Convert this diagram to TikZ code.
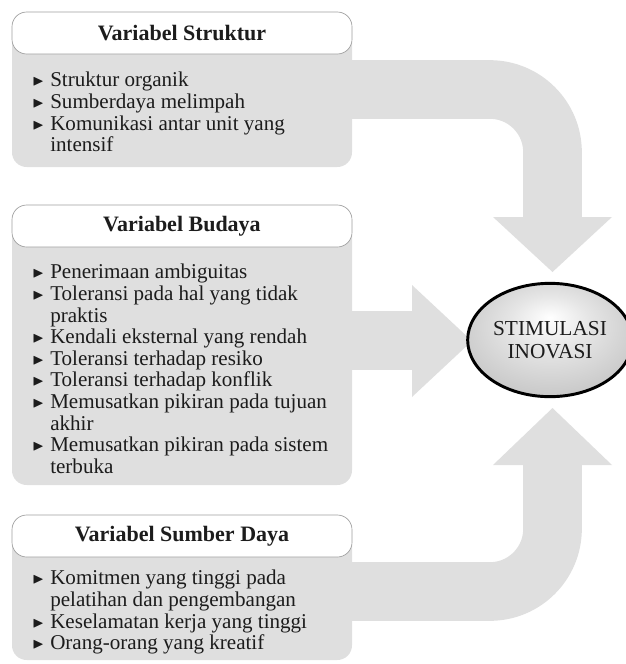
\documentclass[tikz,border=0pt]{standalone}
\usepackage{fontspec}
\setmainfont{Liberation Serif}
\usepackage{amssymb}
\usepackage{graphicx}
\usetikzlibrary{shapes.geometric}

\definecolor{panelgray}{RGB}{223,223,223}
\definecolor{inkgray}{RGB}{28,28,28}
\newcommand{\bul}{\makebox[13.5pt][l]{\raisebox{0.1ex}{\scalebox{0.72}{$\blacktriangleright$}}}}
\newcommand{\gap}{\hspace*{13.5pt}}
\pgfdeclareradialshading{stimshade}{\pgfpoint{0bp}{10bp}}{%
  color(0bp)=(white); color(12bp)=(gray!20); color(38bp)=(gray!55); color(50bp)=(gray!80)}

\begin{document}
\begin{tikzpicture}[x=0.75pt, y=-0.75pt,
  panel/.style={fill=panelgray, rounded corners=11pt},
  header/.style={fill=white, draw=gray!75, line width=0.5pt, rounded corners=11pt},
  title/.style={font=\fontsize{16.5}{19}\selectfont\bfseries, text=inkgray},
  items/.style={font=\fontsize{15.8}{16.2}\selectfont, text=inkgray, align=left,
    anchor=north west, inner sep=0pt},
  band/.style={draw=panelgray, line width=44pt, rounded corners=47pt},
  head/.style={fill=panelgray}]
  \useasboundingbox (0,0) rectangle (625,664);

  % Block arrows
  \draw[band] (300,89.5) -- (552.5,89.5) -- (552.5,217);
  \fill[head] (493,217) -- (612,217) -- (552.5,272) -- cycle;
  \draw[band] (300,340.5) -- (412,340.5);
  \fill[head] (412,285) -- (472,341) -- (412,397) -- cycle;
  \draw[band] (300,591.5) -- (552.5,591.5) -- (552.5,465);
  \fill[head] (493,465) -- (612,465) -- (552.5,408) -- cycle;

  % Variabel Struktur
  \fill[panel] (12,12) rectangle (352,167);
  \draw[header] (12,12) rectangle (352,54);
  \node[title] (struk) at (182,33) {Variabel Struktur};
  \node[items] (struklist) at (32,72) {\bul Struktur organik\\
    \bul Sumberdaya melimpah\\
    \bul Komunikasi antar unit yang\\
    \gap intensif};

  % Variabel Budaya
  \fill[panel] (12,205) rectangle (352,485);
  \draw[header] (12,205) rectangle (352,247);
  \node[title] (bud) at (182,226) {Variabel Budaya};
  \node[items] (budlist) at (32,264) {\bul Penerimaan ambiguitas\\
    \bul Toleransi pada hal yang tidak\\
    \gap praktis\\
    \bul Kendali eksternal yang rendah\\
    \bul Toleransi terhadap resiko\\
    \bul Toleransi terhadap konflik\\
    \bul Memusatkan pikiran pada tujuan\\
    \gap akhir\\
    \bul Memusatkan pikiran pada sistem\\
    \gap terbuka};

  % Variabel Sumber Daya
  \fill[panel] (12,515) rectangle (352,660);
  \draw[header] (12,515) rectangle (352,557);
  \node[title] (sdaya) at (182,536) {Variabel Sumber Daya};
  \node[items] (sdayalist) at (32,570) {\bul Komitmen yang tinggi pada\\
    \gap pelatihan dan pengembangan\\
    \bul Keselamatan kerja yang tinggi\\
    \bul Orang-orang yang kreatif};

  % Target
  \node[ellipse, draw=black, line width=2.2pt, shading=stimshade,
    minimum width=113pt, minimum height=85pt, inner sep=1pt, align=center,
    font=\fontsize{16}{17.5}\selectfont, text=inkgray] (stim) at (550,340)
    {STIMULASI\\INOVASI};
\end{tikzpicture}
\end{document}
